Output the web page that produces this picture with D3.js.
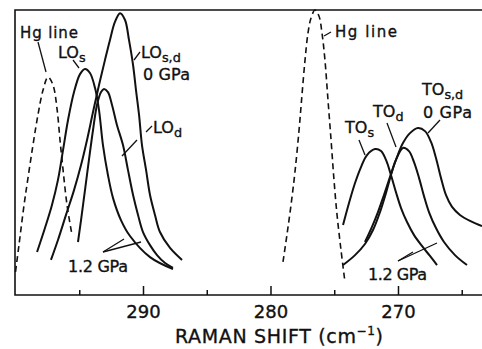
<!DOCTYPE html>
<html>
<head>
<meta charset="utf-8">
<script src="https://cdn.jsdelivr.net/npm/d3@7"></script>
<style>
  body { margin: 0; background: #fff; }
  svg { display: block; }
  text { font-family: "DejaVu Sans", sans-serif; fill: #111; stroke: #111; stroke-width: 0.35; }
</style>
</head>
<body>
<svg width="482" height="349"></svg>
<script>
// Raman shift (cm^-1) vs intensity (arb. units, 0-100)
var majorTicks = [290, 280, 270];
var minorTicks = [295, 285, 275, 265];

// LO region
var hgLineLO = [[300.0, 8.1], [299.73, 17.5], [299.33, 31.6], [299.02, 41.1], [298.63, 52.6], [298.24, 63.2], [297.84, 71.9],
  [297.45, 76.5], [297.06, 73.7], [296.75, 65.6], [296.51, 54.4], [296.27, 43.9], [295.96, 31.6], [295.57, 21.1]];
var loS12 = [[298.31, 15.1], [297.69, 23.5], [297.14, 31.6], [296.67, 40.4], [296.27, 50.9], [295.88, 61.4], [295.41, 71.2],
  [294.94, 77.5], [294.55, 79.3], [294.16, 77.9], [293.76, 72.6], [293.45, 64.9], [293.14, 52.6], [292.75, 42.1],
  [292.35, 34.0], [291.73, 26.3], [291.02, 20.7], [289.45, 13.3], [287.65, 9.1]];
var loD12 = [[295.10, 18.6], [294.86, 26.3], [294.55, 36.8], [294.24, 47.4], [293.92, 57.9], [293.61, 66.7], [293.29, 71.2],
  [293.06, 72.3], [292.75, 71.2], [292.43, 66.7], [292.04, 59.6], [291.57, 52.6], [291.18, 43.9], [290.78, 35.1],
  [290.39, 28.1], [290.00, 22.1], [289.45, 17.5], [288.90, 14.0], [288.27, 11.2], [287.65, 9.5]];
var loSD0 = [[297.22, 12.3], [296.67, 19.3], [296.04, 28.1], [295.41, 36.8], [294.86, 45.6], [294.39, 54.4], [293.92, 64.2],
  [293.45, 73.7], [292.98, 82.5], [292.59, 89.5], [292.20, 95.8], [291.80, 98.9], [291.41, 96.5], [291.10, 89.5],
  [290.78, 80.7], [290.55, 71.9], [290.31, 63.2], [290.08, 52.6], [289.76, 43.9], [289.45, 35.1], [289.06, 28.1],
  [288.67, 22.1], [287.88, 16.5], [286.94, 12.3]];

// TO region
var hgLineTO = [[279.02, 11.6], [278.71, 21.1], [278.39, 31.6], [278.08, 43.2], [277.76, 57.9], [277.53, 70.2], [277.29, 82.5],
  [277.06, 91.9], [276.82, 97.2], [276.51, 100.0], [276.20, 97.9], [275.96, 91.9], [275.73, 82.5], [275.49, 68.4],
  [275.25, 54.4], [275.02, 40.4], [274.78, 28.1], [274.47, 15.8], [274.16, 4.6]];
var toS12 = [[274.31, 24.6], [273.84, 32.3], [273.37, 39.3], [272.90, 44.9], [272.43, 49.1], [271.80, 51.2], [271.33, 50.5],
  [270.94, 47.4], [270.55, 42.1], [270.16, 36.1], [269.76, 30.5], [269.29, 25.6], [268.75, 21.1], [268.12, 17.2],
  [267.49, 13.7], [266.94, 10.5]];
var toD12 = [[274.31, 10.5], [273.37, 14.0], [272.59, 17.9], [271.96, 22.8], [271.41, 29.1], [270.94, 35.8], [270.55, 42.1],
  [270.16, 47.4], [269.61, 51.6], [269.14, 50.5], [268.75, 46.7], [268.35, 41.1], [267.96, 34.7], [267.57, 29.1],
  [267.02, 23.5], [266.39, 18.6], [265.53, 14.0], [264.59, 10.5]];
var toSD0 = [[272.59, 18.6], [272.04, 23.9], [271.57, 29.1], [271.10, 35.1], [270.63, 41.4], [270.16, 47.4], [269.61, 53.3],
  [269.06, 56.8], [268.43, 58.6], [267.88, 57.5], [267.41, 53.7], [267.02, 48.1], [266.63, 41.1], [266.24, 35.1],
  [265.76, 30.9], [265.14, 28.1], [264.35, 26.0], [263.41, 24.2]];

var svg = d3.select("svg");
var plotL = 15, plotR = 482, plotT = 10, plotB = 295;

var x = d3.scaleLinear().domain([300.04, 263.41]).range([plotL, plotR]);
var y = d3.scaleLinear().domain([0, 100]).range([plotB, plotT]);

var line = d3.line()
    .x(function(d) { return x(d[0]); })
    .y(function(d) { return y(d[1]); })
    .curve(d3.curveCatmullRom.alpha(0.5));

// frame
svg.append("path")
    .attr("d", "M" + plotR + "," + plotT + "H" + plotL + "V" + plotB + "H" + plotR)
    .attr("fill", "none")
    .attr("stroke", "#111")
    .attr("stroke-width", 1.6);

// ticks pointing inward
var axisG = svg.append("g").attr("transform", "translate(0," + plotB + ")");
axisG.call(d3.axisBottom(x).tickValues(majorTicks).tickSize(-9).tickPadding(10).tickFormat(d3.format("d")));
var minorG = svg.append("g").attr("transform", "translate(0," + plotB + ")");
minorG.call(d3.axisBottom(x).tickValues(minorTicks).tickSize(-5).tickFormat(""));
svg.selectAll(".domain").remove();
svg.selectAll(".tick line").attr("stroke", "#111").attr("stroke-width", 1.5);
axisG.selectAll("text").attr("font-size", 18).attr("font-family", "DejaVu Sans").attr("fill", "#111");

// axis title
var title = svg.append("text")
    .attr("x", 175).attr("y", 343)
    .attr("font-size", 19)
    .attr("textLength", 208)
    .attr("lengthAdjust", "spacing");
title.append("tspan").text("RAMAN SHIFT (cm");
title.append("tspan").attr("font-size", 12).attr("dy", -8).text("−1");
title.append("tspan").attr("dy", 8).text(")");

// curves
var solid = [loS12, loD12, loSD0, toS12, toD12, toSD0];
svg.append("g").selectAll("path")
    .data(solid)
    .enter().append("path")
    .attr("d", line)
    .attr("fill", "none")
    .attr("stroke", "#111")
    .attr("stroke-width", 2);

svg.append("g").selectAll("path")
    .data([hgLineLO, hgLineTO])
    .enter().append("path")
    .attr("d", line)
    .attr("fill", "none")
    .attr("stroke", "#111")
    .attr("stroke-width", 1.6)
    .attr("stroke-dasharray", "6,4");

// labels
function label(px, py, main, sub, size, len) {
  var t = svg.append("text").attr("x", px).attr("y", py).attr("font-size", size);
  t.append("tspan").text(main);
  if (sub) t.append("tspan").attr("font-size", size * 0.8).attr("dy", 4).text(sub);
  if (len) t.attr("textLength", len).attr("lengthAdjust", "spacing");
  return t;
}
function leader(x1, y1, x2, y2) {
  svg.append("line")
      .attr("x1", x1).attr("y1", y1).attr("x2", x2).attr("y2", y2)
      .attr("stroke", "#111").attr("stroke-width", 1.3);
}

label(20, 38, "Hg  line", null, 15, 58);
leader(38, 42, 46, 72);
label(58, 58, "LO", "s", 16);
leader(73, 60, 79, 68);
label(141, 58, "LO", "s,d", 16);
leader(134, 60, 140, 52);
label(143, 80, "0 GPa", null, 16, 47);
label(153, 133, "LO", "d", 16);
leader(122, 156, 137, 140);
leader(146, 132, 152, 126);
label(68, 272, "1.2 GPa", null, 16, 60);
leader(103, 252, 124, 239);
leader(103, 252, 141, 242);

label(335, 37, "Hg  line", null, 15, 62);
leader(324, 36, 331, 32);
label(345, 133, "TO", "s", 16);
leader(359, 140, 365, 155);
label(373, 117, "TO", "d", 16);
leader(387, 123, 396, 147);
label(422, 95, "TO", "s,d", 16);
label(423, 118, "0 GPa", null, 16, 49);
leader(440, 120, 428, 133);
label(368, 280, "1.2 GPa", null, 16, 59);
leader(398, 261, 413, 252);
leader(398, 261, 437, 243);
</script>
</body>
</html>
